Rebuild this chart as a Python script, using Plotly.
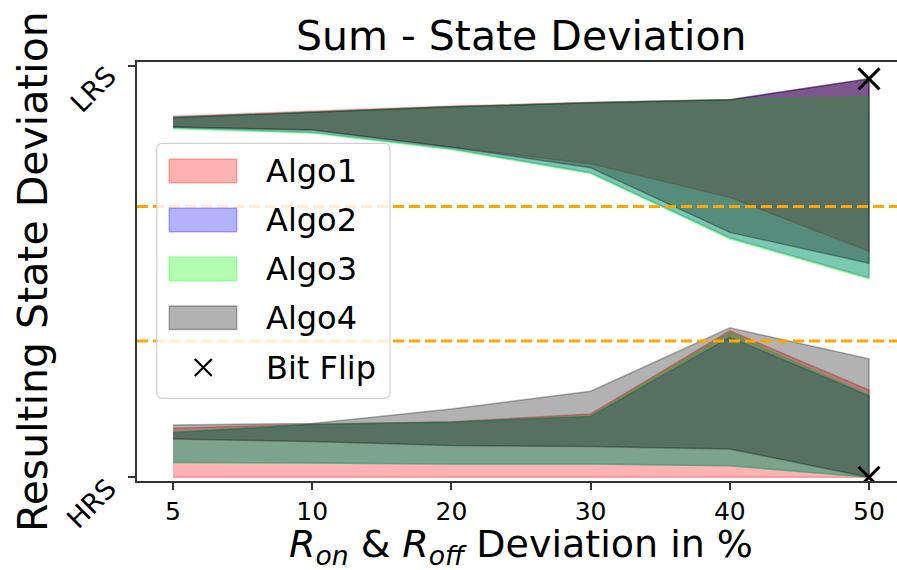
import plotly.graph_objects as go

# ---- data -------------------------------------------------------------
deviation_pct = [5, 10, 20, 30, 40, 50]
x_tick_labels = ["5", "10", "20", "30", "40", "50"]

state_tick_values = [0.0, 1.0]
state_tick_labels = ["HRS", "LRS"]

# decision thresholds between the two states
threshold_levels = [0.331, 0.658]

algo_names = ["Algo1", "Algo2", "Algo3", "Algo4"]
algo_rgb = ["255,0,0", "0,0,255", "0,255,0", "0,0,0"]

# resulting state ranges (normalised: HRS = 0, LRS = 1)
algo1_lrs_hi = [0.877, 0.889, 0.902, 0.911, 0.918, 0.968]
algo1_lrs_lo = [0.851, 0.844, 0.802, 0.762, 0.680, 0.549]
algo1_hrs_hi = [0.119, 0.129, 0.135, 0.154, 0.356, 0.212]
algo1_hrs_lo = [0.000, 0.000, 0.000, 0.000, 0.000, 0.000]

algo2_lrs_hi = [0.874, 0.887, 0.900, 0.910, 0.917, 0.968]
algo2_lrs_lo = [0.849, 0.838, 0.798, 0.740, 0.582, 0.485]
algo2_hrs_hi = [0.109, 0.128, 0.134, 0.148, 0.340, 0.198]
algo2_hrs_lo = [0.036, 0.035, 0.032, 0.032, 0.028, 0.000]

algo3_lrs_hi = [0.874, 0.887, 0.900, 0.910, 0.917, 0.925]
algo3_lrs_lo = [0.847, 0.836, 0.796, 0.738, 0.579, 0.482]
algo3_hrs_hi = [0.110, 0.128, 0.134, 0.149, 0.351, 0.199]
algo3_hrs_lo = [0.036, 0.035, 0.032, 0.032, 0.028, 0.000]

algo4_lrs_hi = [0.874, 0.887, 0.900, 0.910, 0.917, 0.968]
algo4_lrs_lo = [0.851, 0.844, 0.802, 0.752, 0.595, 0.520]
algo4_hrs_hi = [0.127, 0.131, 0.166, 0.209, 0.363, 0.288]
algo4_hrs_lo = [0.093, 0.087, 0.077, 0.075, 0.069, 0.000]

bit_flip_pct = [50, 50]
bit_flip_state = [0.968, 0.000]

# ---- layout geometry (pixels) ----------------------------------------
W, H = 897, 570
ML, MR, MT, MB = 137, 0, 62, 89
PW, PH = W - ML - MR, H - MT - MB
FONT = "DejaVu Sans"


def fx(p):
    return (p - ML) / PW


def fy(p):
    return (H - MB - p) / PH


xi = list(range(len(deviation_pct)))

bands = [
    (algo1_lrs_lo, algo1_lrs_hi, algo1_hrs_lo, algo1_hrs_hi),
    (algo2_lrs_lo, algo2_lrs_hi, algo2_hrs_lo, algo2_hrs_hi),
    (algo3_lrs_lo, algo3_lrs_hi, algo3_hrs_lo, algo3_hrs_hi),
    (algo4_lrs_lo, algo4_lrs_hi, algo4_hrs_lo, algo4_hrs_hi),
]

fig = go.Figure()

for name, rgb, (llo, lhi, hlo, hhi) in zip(algo_names, algo_rgb, bands):
    for lo, hi in ((llo, lhi), (hlo, hhi)):
        fig.add_trace(go.Scatter(
            x=xi + xi[::-1],
            y=hi + lo[::-1],
            fill="toself",
            mode="lines",
            fillcolor=f"rgba({rgb},0.3)",
            line=dict(color=f"rgba({rgb},0.3)", width=1.5),
            name=name,
            showlegend=False,
            hoverinfo="skip",
        ))

fig.add_trace(go.Scatter(
    x=[deviation_pct.index(v) for v in bit_flip_pct],
    y=bit_flip_state,
    mode="markers",
    marker=dict(symbol="x-thin", size=21, color="black",
                line=dict(width=3, color="black")),
    name="Bit Flip",
    showlegend=False,
))

shapes = []
for lvl in threshold_levels:
    shapes.append(dict(
        type="line", xref="paper", yref="y", x0=0, x1=1, y0=lvl, y1=lvl,
        line=dict(color="orange", width=3, dash="11px,5px"), layer="above",
    ))

# legend frame with rounded corners
lx0, lx1, ly0, ly1, rad = 156.7, 390.0, 143.3, 398.3, 6.0
rx, ry = rad / PW, rad / PH
X0, X1, Y0, Y1 = fx(lx0), fx(lx1), fy(ly1), fy(ly0)
legend_path = (
    f"M {X0 + rx},{Y0} L {X1 - rx},{Y0} Q {X1},{Y0} {X1},{Y0 + ry} "
    f"L {X1},{Y1 - ry} Q {X1},{Y1} {X1 - rx},{Y1} "
    f"L {X0 + rx},{Y1} Q {X0},{Y1} {X0},{Y1 - ry} "
    f"L {X0},{Y0 + ry} Q {X0},{Y0} {X0 + rx},{Y0} Z"
)
shapes.append(dict(
    type="path", xref="paper", yref="paper", path=legend_path,
    fillcolor="rgba(255,255,255,0.8)", line=dict(color="#d0d0d0", width=1.2),
    layer="above",
))

annotations = []
row_centers = [171.0, 220.0, 269.0, 317.7, 367.5]
for name, rgb, cy in zip(algo_names, algo_rgb, row_centers):
    shapes.append(dict(
        type="rect", xref="paper", yref="paper",
        x0=fx(169.3), x1=fx(236.7), y0=fy(cy + 11.7), y1=fy(cy - 11.7),
        fillcolor=f"rgba({rgb},0.3)", line=dict(color=f"rgba({rgb},0.3)", width=1.5),
        layer="above",
    ))
    annotations.append(dict(
        xref="paper", yref="paper", x=fx(264), y=fy(cy), text=name,
        xanchor="left", yanchor="middle", showarrow=False,
        font=dict(family=FONT, size=32, color="black"),
    ))

# bit flip legend glyph
cx, cy, hs = 203.3, row_centers[4], 8.5
for dx in (-1, 1):
    shapes.append(dict(
        type="line", xref="paper", yref="paper",
        x0=fx(cx - hs), x1=fx(cx + hs), y0=fy(cy - dx * hs), y1=fy(cy + dx * hs),
        line=dict(color="black", width=2.2), layer="above",
    ))
annotations.append(dict(
    xref="paper", yref="paper", x=fx(264), y=fy(cy), text="Bit Flip",
    xanchor="left", yanchor="middle", showarrow=False,
    font=dict(family=FONT, size=32, color="black"),
))

# rotated state tick labels: box right edge just left of the tick,
# box top level with the tick
STATE_FONT = 27
for v, lab in zip(state_tick_values, state_tick_labels):
    est_w = {"HRS": 2.082, "LRS": 1.887}[lab] * STATE_FONT
    half = (est_w + 0.73 * STATE_FONT) / 1.414 / 2
    annotations.append(dict(
        xref="paper", yref="y", x=fx(118 - half), y=v, yshift=-half + 1,
        text=lab, textangle=-45,
        xanchor="center", yanchor="middle", showarrow=False,
        font=dict(family=FONT, size=STATE_FONT, color="black"),
    ))

# titles
annotations.append(dict(
    xref="paper", yref="paper", x=fx(520.5), y=fy(36), text="Sum - State Deviation",
    xanchor="center", yanchor="middle", showarrow=False,
    font=dict(family=FONT, size=41, color="black"),
))
annotations.append(dict(
    xref="paper", yref="paper", x=fx(520.5), y=fy(546),
    text="<i>R</i><sub><i>on</i></sub> &amp; <i>R</i><sub><i>off</i></sub> Deviation in %",
    xanchor="center", yanchor="middle", showarrow=False,
    font=dict(family=FONT, size=38, color="black"),
))
annotations.append(dict(
    xref="paper", yref="paper", x=fx(33), y=fy(272), text="Resulting State Deviation",
    textangle=-90, xanchor="center", yanchor="middle", showarrow=False,
    font=dict(family=FONT, size=41, color="black"),
))

fig.update_layout(
    width=W, height=H,
    margin=dict(l=ML, r=MR, t=MT, b=MB, autoexpand=False),
    plot_bgcolor="white", paper_bgcolor="white",
    showlegend=False,
    shapes=shapes,
    annotations=annotations,
    font=dict(family=FONT, color="black"),
)
fig.update_xaxes(
    range=[-0.2586, 5.201], tickvals=xi, ticktext=x_tick_labels,
    ticks="outside", ticklen=7, tickwidth=1.5, tickcolor="#333",
    showline=True, linecolor="#333", linewidth=1.5, mirror=True,
    showgrid=False, zeroline=False, automargin=False,
    tickfont=dict(family=FONT, size=25, color="black"),
)
fig.update_yaxes(
    range=[-0.009, 1.009], tickvals=state_tick_values, showticklabels=False,
    ticks="outside", ticklen=7, tickwidth=1.5, tickcolor="#333",
    showline=True, linecolor="#333", linewidth=1.5,
    showgrid=False, zeroline=False, automargin=False,
)

fig.write_html("out.html", config={"displayModeBar": False})
